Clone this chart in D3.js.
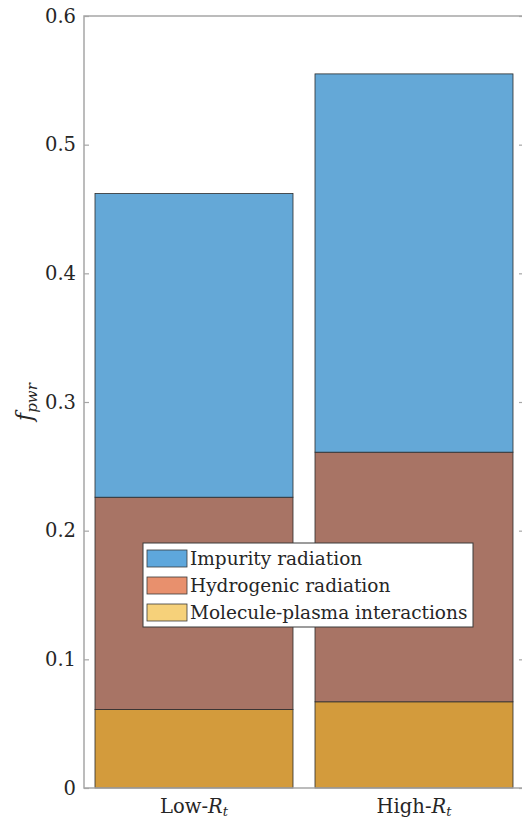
<!DOCTYPE html>
<html>
<head>
<meta charset="utf-8">
<script src="https://cdn.jsdelivr.net/npm/d3@7"></script>
<style>
  body { margin: 0; background: #fff; }
  svg text { font-family: "DejaVu Serif", serif; fill: #262626; }
</style>
</head>
<body>
<svg id="chart" width="522" height="821"></svg>
<script>
// categories and stacked series
var cases = ["Low", "High"];
var seriesNames = ["Molecule-plasma interactions", "Hydrogenic radiation", "Impurity radiation"];
var molecule = [0.061, 0.067];
var hydrogenic = [0.165, 0.194];
var impurity = [0.236, 0.294];
var yTicks = [0, 0.1, 0.2, 0.3, 0.4, 0.5, 0.6];

var barColors = ["#d39b3c", "#a87465", "#64a8d7"];
var legendColors = ["#f6d17a", "#e8906d", "#5ea7dc"];

var svg = d3.select("#chart"),
    margin = {top: 16, right: -2, bottom: 33, left: 84},
    width = +svg.attr("width") - margin.left - margin.right,
    height = +svg.attr("height") - margin.top - margin.bottom,
    g = svg.append("g").attr("transform", "translate(" + margin.left + "," + margin.top + ")");

var x = d3.scaleBand()
    .domain(cases)
    .range([0, width])
    .paddingInner(0.1)
    .paddingOuter(0.05);

var y = d3.scaleLinear()
    .domain([0, 0.6])
    .range([height, 0]);

var data = cases.map(function (c, i) {
    var d = {name: c};
    d[seriesNames[0]] = molecule[i];
    d[seriesNames[1]] = hydrogenic[i];
    d[seriesNames[2]] = impurity[i];
    return d;
});

var stacked = d3.stack().keys(seriesNames)(data);

g.append("g")
    .selectAll("g")
    .data(stacked)
    .enter().append("g")
    .attr("fill", function (d, i) { return barColors[i]; })
    .selectAll("rect")
    .data(function (d) { return d; })
    .enter().append("rect")
    .attr("x", function (d) { return x(d.data.name); })
    .attr("y", function (d) { return y(d[1]); })
    .attr("height", function (d) { return y(d[0]) - y(d[1]); })
    .attr("width", x.bandwidth())
    .attr("stroke", "#2b2b2b")
    .attr("stroke-width", 0.8);

// box + ticks (matlab style, inward)
var axisColor = "#a6a6a6";
g.append("rect")
    .attr("width", width).attr("height", height)
    .attr("fill", "none").attr("stroke", axisColor).attr("stroke-width", 1.5);

var yAxis = g.append("g")
    .call(d3.axisLeft(y).tickValues(yTicks).tickSize(-5).tickPadding(8)
        .tickFormat(function (d) { return d === 0 ? "0" : d3.format(".1f")(d); }));
yAxis.select(".domain").remove();
yAxis.selectAll("line").attr("stroke", axisColor).attr("stroke-width", 1.2);
yAxis.selectAll("text").attr("font-size", 19.5).attr("fill", "#303030");

var yAxisR = g.append("g")
    .attr("transform", "translate(" + width + ",0)")
    .call(d3.axisRight(y).tickValues(yTicks).tickSize(-5).tickFormat(""));
yAxisR.select(".domain").remove();
yAxisR.selectAll("line").attr("stroke", axisColor).attr("stroke-width", 1.2);

var xAxis = g.append("g")
    .attr("transform", "translate(0," + height + ")")
    .call(d3.axisBottom(x).tickSize(0).tickFormat(""));
xAxis.select(".domain").remove();
xAxis.selectAll(".tick").append("text")
    .attr("y", 25)
    .attr("text-anchor", "middle")
    .attr("font-size", 19.5)
    .attr("fill", "#303030")
    .each(function (d) {
        var t = d3.select(this);
        t.append("tspan").text(d + "-");
        t.append("tspan").attr("font-style", "italic").text("R");
        t.append("tspan").attr("font-style", "italic").attr("font-size", 13).attr("dy", 3).text("t");
    });

// y label
var yl = g.append("text")
    .attr("transform", "translate(" + (-52) + "," + (height / 2) + ") rotate(-90)")
    .attr("text-anchor", "middle")
    .attr("font-size", 22)
    .attr("font-style", "italic");
yl.append("tspan").text("f");
yl.append("tspan").attr("font-size", 15).attr("dy", 5).text("pwr");

// legend (top to bottom: impurity, hydrogenic, molecule)
var lg = svg.append("g").attr("transform", "translate(143,543)");
lg.append("rect")
    .attr("width", 330).attr("height", 84)
    .attr("fill", "#fff").attr("stroke", "#3a3a3a").attr("stroke-width", 1);
var order = [2, 1, 0];
var rows = lg.selectAll(".row")
    .data(order)
    .enter().append("g")
    .attr("transform", function (d, i) { return "translate(4," + (7 + i * 27) + ")"; });
rows.append("rect")
    .attr("width", 40).attr("height", 17)
    .attr("fill", function (d) { return legendColors[d]; })
    .attr("stroke", "#3a3a3a").attr("stroke-width", 0.8);
rows.append("text")
    .attr("x", 43).attr("y", 14.5)
    .attr("font-size", 18.5)
    .text(function (d) { return seriesNames[d]; });
</script>
</body>
</html>
